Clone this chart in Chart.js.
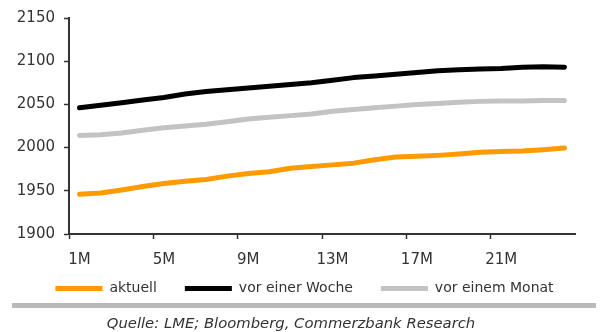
<!DOCTYPE html>
<html lang="de">
<head>
<meta charset="utf-8">
<title>LME Terminkurve</title>
<script src="https://cdn.jsdelivr.net/npm/chart.js@4/dist/chart.umd.min.js"></script>
<style>
  html, body { margin: 0; padding: 0; background: #ffffff; }
  #wrap { position: relative; width: 600px; height: 332px; overflow: hidden; }
  #chart { position: absolute; left: 0; top: 0; }
  #rule { position: absolute; left: 12px; top: 303px; width: 584px; height: 5px; background: #b9b9b9; }
  #source {
    position: absolute; left: 0; top: 314px; width: 582px; text-align: center;
    font-family: "DejaVu Sans", sans-serif; font-style: italic; font-size: 14.8px;
    line-height: 18px; color: #333333; white-space: nowrap;
  }
</style>
</head>
<body>
<div id="wrap">
  <canvas id="chart" width="600" height="332"></canvas>
  <div id="rule"></div>
  <div id="source">Quelle: LME; Bloomberg, Commerzbank Research</div>
</div>
<script>
// Forward months 1M .. 24M
const months = ['1M','2M','3M','4M','5M','6M','7M','8M','9M','10M','11M','12M',
                '13M','14M','15M','16M','17M','18M','19M','20M','21M','22M','23M','24M'];

// Curve today
const aktuell = [1946, 1947.5, 1951, 1955, 1958.5, 1961, 1963, 1967, 1970, 1972, 1976, 1978,
                 1980, 1982, 1986, 1989, 1990, 1991, 1992.5, 1994.5, 1995.5, 1996, 1997.5, 1999.5];

// Curve one week ago
const vorEinerWoche = [2046, 2049, 2052, 2055, 2058, 2062, 2065, 2067, 2069, 2071, 2073, 2075,
                       2078, 2081, 2083, 2085, 2087, 2089, 2090, 2091, 2091.5, 2093, 2093.5, 2093];

// Curve one month ago
const vorEinemMonat = [2014, 2015, 2017, 2020, 2023, 2025, 2027, 2030, 2033, 2035, 2037, 2039,
                       2042, 2044, 2046, 2048, 2050, 2051, 2052.5, 2053.5, 2054, 2054, 2054.5, 2054.5];

// Value axis range
const yMin = 1900;
const yMax = 2150;
const yStep = 50;

const textColor = '#333333';
const axisColor = '#333333';
const fontFamily = '"DejaVu Sans", sans-serif';

function line(label, data, color) {
  return {
    label: label,
    data: data,
    borderColor: color,
    backgroundColor: color,
    borderWidth: 5,
    borderCapStyle: 'round',
    borderJoinStyle: 'round',
    pointRadius: 0,
    pointHoverRadius: 0,
    tension: 0,
    fill: false
  };
}

// Nudges the legend row closer to the axis labels and a bit to the right.
const legendOffset = {
  id: 'legendOffset',
  afterLayout(chart, args, opts) {
    const lg = chart.legend;
    if (!lg) return;
    lg.top += opts.dy; lg.bottom += opts.dy;
    lg.left += opts.dx; lg.right += opts.dx;
  }
};

new Chart(document.getElementById('chart'), {
  type: 'line',
  data: {
    labels: months,
    datasets: [
      line('aktuell', aktuell, '#ff9a00'),
      line('vor einer Woche', vorEinerWoche, '#000000'),
      line('vor einem Monat', vorEinemMonat, '#c3c3c3')
    ]
  },
  plugins: [legendOffset],
  options: {
    responsive: false,
    animation: false,
    devicePixelRatio: 1,
    layout: { padding: { left: 0, right: 25, top: 17, bottom: 11 } },
    plugins: {
      tooltip: { enabled: false },
      legendOffset: { dx: 17, dy: -15.5 },
      legend: {
        display: true,
        position: 'bottom',
        align: 'center',
        labels: {
          boxWidth: 47,
          boxHeight: 5,
          padding: 28,
          color: textColor,
          font: { family: fontFamily, size: 14 },
          generateLabels: (chart) =>
            Chart.defaults.plugins.legend.labels.generateLabels(chart).map(item => ({
              ...item,
              fillStyle: item.strokeStyle,
              lineWidth: 0
            }))
        }
      }
    },
    scales: {
      x: {
        type: 'category',
        offset: true,
        afterFit: (scale) => { scale.height = 35; },
        grid: {
          offset: true,
          drawOnChartArea: false,
          drawTicks: true,
          tickLength: 5,
          tickWidth: 1.5,
          tickColor: (ctx) => (ctx.index % 4 === 0 ? axisColor : 'rgba(0,0,0,0)')
        },
        border: { display: true, color: axisColor, width: 2 },
        ticks: {
          autoSkip: false,
          maxRotation: 0,
          padding: 12,
          color: textColor,
          font: { family: fontFamily, size: 15 },
          callback: function (value, index) {
            return index % 4 === 0 ? this.getLabelForValue(value) : '';
          }
        }
      },
      y: {
        min: yMin,
        max: yMax,
        afterFit: (scale) => { scale.width = 69; },
        grid: {
          drawOnChartArea: false,
          drawTicks: true,
          tickLength: 5,
          tickWidth: 1.5,
          tickColor: axisColor
        },
        border: { display: true, color: axisColor, width: 2 },
        ticks: {
          stepSize: yStep,
          padding: 9,
          color: textColor,
          font: { family: fontFamily, size: 15 },
          callback: (value) => String(value)
        }
      }
    }
  }
});
</script>
</body>
</html>
